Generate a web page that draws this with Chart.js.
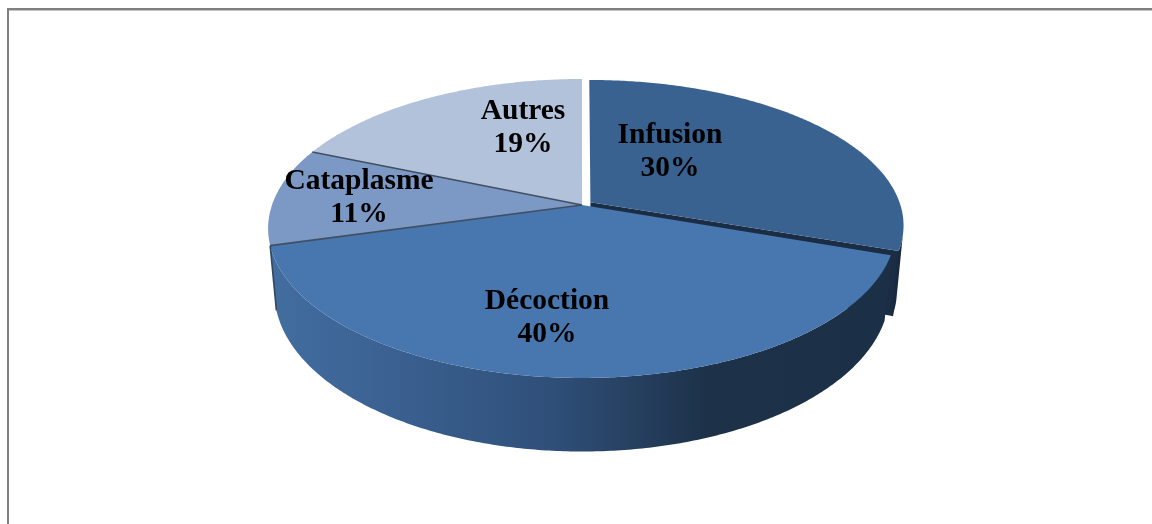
<!DOCTYPE html>
<html>
<head>
<meta charset="utf-8">
<script src="https://cdn.jsdelivr.net/npm/chart.js@4"></script>
<style>
    html, body { margin: 0; padding: 0; background: #fff; overflow: hidden; }
    #wrap { position: relative; width: 1152px; height: 524px; }
    #frame { position: absolute; left: 7px; top: 8px; right: 0; bottom: 0; border-left: 2px solid #808080; border-top: 2px solid #808080; box-shadow: inset 0 1px 0 #c4c4c4; }
    canvas { position: absolute; left: 0; top: 0; }
</style>
</head>
<body>
<div id="wrap">
    <div id="frame"></div>
    <canvas id="chart" width="1152" height="524"></canvas>
</div>
<script>
const categories = ['Infusion', 'Décoction', 'Cataplasme', 'Autres'];
const values = [30.3, 40.4, 10.6, 18.7];
const colors = ['#3a6291', '#4876af', '#7c98c4', '#b3c2db'];
const offsets = [10.5, 0, 0, 0];

// label centres (first line), excel puts these by hand
const labelCentres = [[670, 135], [547, 301], [359, 181], [523, 111]];

// perspective of the tilted disc
const view = { x: 582, y: 205, a: 310, b: 145.8, p: 0.157, radius: 314, depth: 62, shrink: 0.98, pulledB: 0.976 };

let angleMid = 0;

const project = (angle, r, off, down) => {
    const e = off / view.radius;
    // slice moves out along its middle angle
    const u = r * Math.cos(angle) + e * Math.cos(off ? angleMid : 0);
    const v = r * Math.sin(angle) + e * Math.sin(off ? angleMid : 0);
    const w = 1 - view.p * v;
    const b = off ? view.b * view.pulledB : view.b;
    let x = view.a * u / w;
    let y = view.y + b * v / w;
    if (down) {
        x = x * view.shrink;
        y = y + view.depth / w;
    }
    return [view.x + x, y];
};

const rimPoints = (from, to, off, down) => {
    const pts = [];
    const steps = Math.ceil(Math.abs(to - from) / 0.01);
    for (let i = 0; i <= steps; i++) {
        pts.push(project(from + (to - from) * i / steps, 1, off, down));
    }
    return pts;
};

const fillPoly = (ctx, pts, fill) => {
    ctx.beginPath();
    pts.forEach((p, i) => i ? ctx.lineTo(p[0], p[1]) : ctx.moveTo(p[0], p[1]));
    ctx.closePath();
    ctx.fillStyle = fill;
    ctx.fill();
};

const line = (ctx, a, b, color, width) => {
    ctx.beginPath();
    ctx.moveTo(a[0], a[1]);
    ctx.lineTo(b[0], b[1]);
    ctx.strokeStyle = color;
    ctx.lineWidth = width;
    ctx.stroke();
};

const tiltedPie = {
    id: 'tiltedPie',
    beforeDatasetDraw(chart) {
        const ctx = chart.ctx;
        const arcs = chart.getDatasetMeta(0).data;
        const [inf, dec, cat] = arcs;
        ctx.save();

        // outer wall and cut face of the pulled out slice
        angleMid = (inf.startAngle + inf.endAngle) / 2;
        const off = inf.options.offset;
        const infWall = rimPoints(inf.endAngle - 0.1, inf.endAngle, off, false)
            .concat(rimPoints(inf.endAngle, inf.endAngle - 0.1, off, true));
        fillPoly(ctx, infWall, '#182a3f');
        const infEnd = project(inf.endAngle, 1, off, false);
        const infEndLow = project(inf.endAngle, 1, off, true);
        fillPoly(ctx, [project(0, 0, off, false), infEnd, infEndLow, project(0, 0, off, true)], '#1a2d44');
        line(ctx, infEnd, infEndLow, '#182a3f', 1.5);

        // front wall
        const wall = rimPoints(dec.startAngle, dec.endAngle, 0, false)
            .concat(rimPoints(dec.endAngle, dec.startAngle, 0, true));
        const grad = ctx.createLinearGradient(276, 0, 891, 0);
        grad.addColorStop(0, '#426d9f');
        grad.addColorStop(0.2, '#3a6090');
        grad.addColorStop(0.45, '#2f4f79');
        grad.addColorStop(0.7, '#1d3249');
        grad.addColorStop(1, '#1b3047');
        fillPoly(ctx, wall, grad);

        // tops
        arcs.forEach((arc) => {
            const o = arc.options.offset;
            if (o) angleMid = (arc.startAngle + arc.endAngle) / 2;
            const pts = [project(0, 0, o, false)].concat(rimPoints(arc.startAngle, arc.endAngle, o, false));
            fillPoly(ctx, pts, arc.options.backgroundColor);
        });

        // dark edges on the left slices
        const centre = project(0, 0, 0, false);
        line(ctx, centre, project(cat.endAngle, 1, 0, false), '#414f63', 1.6);
        line(ctx, centre, project(cat.startAngle, 1, 0, false), '#414f63', 1.6);
        line(ctx, project(dec.endAngle, 1, 0, false), project(dec.endAngle, 1, 0, true), '#33475f', 1.6);

        ctx.restore();
        return false;
    },
    afterDraw(chart) {
        const ctx = chart.ctx;
        const total = values.reduce((s, v) => s + v, 0);
        ctx.save();
        ctx.font = 'bold 29.5px "Liberation Serif"';
        ctx.fillStyle = '#000';
        ctx.textAlign = 'center';
        ctx.textBaseline = 'middle';
        categories.forEach((name, i) => {
            const [x, y] = labelCentres[i];
            ctx.fillText(name, x, y);
            ctx.fillText(Math.round(values[i] / total * 100) + '%', x, y + 33);
        });
        ctx.restore();
    }
};

const ctx = document.getElementById('chart');
const myChart = new Chart(ctx, {
    type: 'pie',
    data: {
        labels: categories,
        datasets: [{
            data: values,
            backgroundColor: colors,
            offset: offsets,
            borderWidth: 0
        }]
    },
    options: {
        responsive: false,
        animation: false,
        plugins: {
            legend: { display: false },
            tooltip: { enabled: false }
        }
    },
    plugins: [tiltedPie]
});
</script>
</body>
</html>
